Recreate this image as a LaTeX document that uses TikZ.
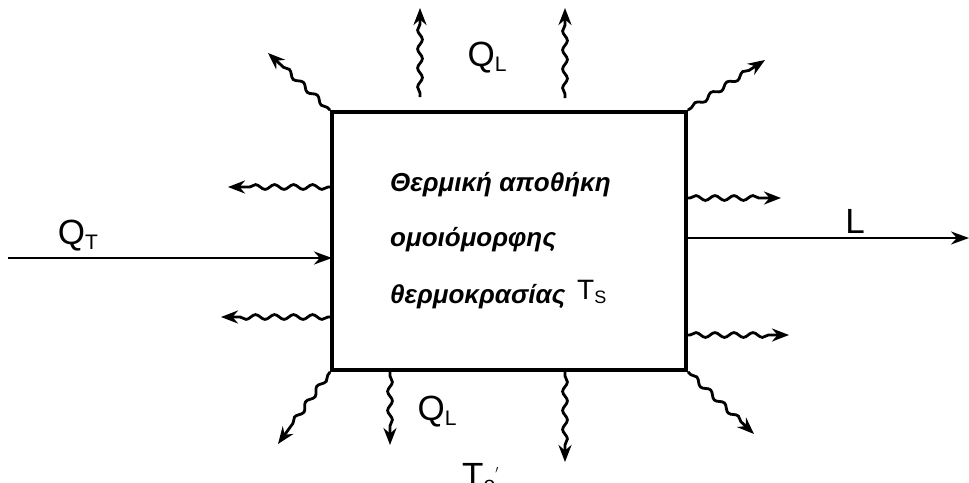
\documentclass[tikz,border=0pt]{standalone}
\usepackage{fontspec}
\setmainfont{Liberation Sans}
\usetikzlibrary{arrows.meta,decorations.pathmorphing}
\begin{document}
\begin{tikzpicture}[x=1pt,y=-1pt,
  wall/.style={line width=3.8pt},
  flow/.style={line width=2.6pt,-{Stealth[length=18pt,width=13pt]}},
  wavy/.style={line width=2.8pt,-{Stealth[length=17pt,width=13pt]},decorate,
    decoration={snake,amplitude=2.4pt,segment length=19pt,post length=16pt,pre length=4pt}},
  lbl/.style={font=\fontsize{35}{38}\selectfont,inner sep=0pt},
  gr/.style={font=\fontsize{26}{30}\selectfont\bfseries\itshape,inner sep=0pt,anchor=west}]
\clip (0,0) rectangle (969,482);
\useasboundingbox (0,0) rectangle (969,482);
\node[draw,wall,minimum width=354pt,minimum height=258pt,inner sep=0pt] (box) at (509,241) {};
% corners
\coordinate (tl) at (box.north west);
\coordinate (tr) at (box.north east);
\coordinate (bl) at (box.south west);
\coordinate (br) at (box.south east);
% free ends
\coordinate (t1s) at (420,97); \coordinate (t1e) at (420,8);
\coordinate (t2s) at (565,98); \coordinate (t2e) at (565,8);
\coordinate (tle) at (268,53);
\coordinate (tre) at (765,60);
\coordinate (l1s) at (332,187); \coordinate (l1e) at (228,187);
\coordinate (l2s) at (332,317); \coordinate (l2e) at (221,317);
\coordinate (qts) at (8,258); \coordinate (qte) at (332,258);
\coordinate (r1s) at (686,198); \coordinate (r1e) at (781,198);
\coordinate (ls) at (686,238); \coordinate (le) at (969,238);
\coordinate (r2s) at (686,335); \coordinate (r2e) at (789,335);
\coordinate (bre) at (754,434);
\coordinate (ble) at (278,444);
\coordinate (b1s) at (390,372); \coordinate (b1e) at (390,445);
\coordinate (b2s) at (565,372); \coordinate (b2e) at (565,462);
% top
\draw[wavy] (t1s) -- (t1e);
\draw[wavy] (t2s) -- (t2e);
\draw[wavy] (tl) -- (tle);
\draw[wavy] (tr) -- (tre);
% left
\draw[wavy] (l1s) -- (l1e);
\draw[wavy] (l2s) -- (l2e);
\draw[flow,line width=2.8pt] (qts) -- (qte);
% right
\draw[wavy] (r1s) -- (r1e);
\draw[flow] (ls) -- (le);
\draw[wavy] (r2s) -- (r2e);
% bottom
\draw[wavy] (br) -- (bre);
\draw[wavy] (bl) -- (ble);
\draw[wavy] (b1s) -- (b1e);
\draw[wavy] (b2s) -- (b2e);
% labels
\node[lbl] (ql1) at (487,58) {Q\raisebox{-0.25ex}{\fontsize{21}{21}\selectfont L}};
\node[lbl] (qt) at (78,236) {Q\raisebox{-0.25ex}{\fontsize{21}{21}\selectfont T}};
\node[lbl] (l) at (855,221) {L};
\node[lbl] (ql2) at (437,412) {Q\raisebox{-0.25ex}{\fontsize{21}{21}\selectfont L}};
\node[lbl,anchor=north west] (t0) at (462,463) {T\raisebox{-0.25ex}{\fontsize{21}{21}\selectfont o}\raisebox{0.4ex}{\fontsize{16}{16}\selectfont$^{\prime}$}};
\node[gr] (g1) at (390,185) {Θερμική αποθήκη};
\node[gr] (g2) at (390,240) {ομοιόμορφης};
\node[gr] (g3) at (390,297) {θερμοκρασίας};
\node[inner sep=0pt,anchor=west,font=\fontsize{28}{30}\selectfont] (ts) at (577,292) {T\raisebox{-0.3ex}{\fontsize{18}{18}\selectfont S}};
\end{tikzpicture}
\end{document}
